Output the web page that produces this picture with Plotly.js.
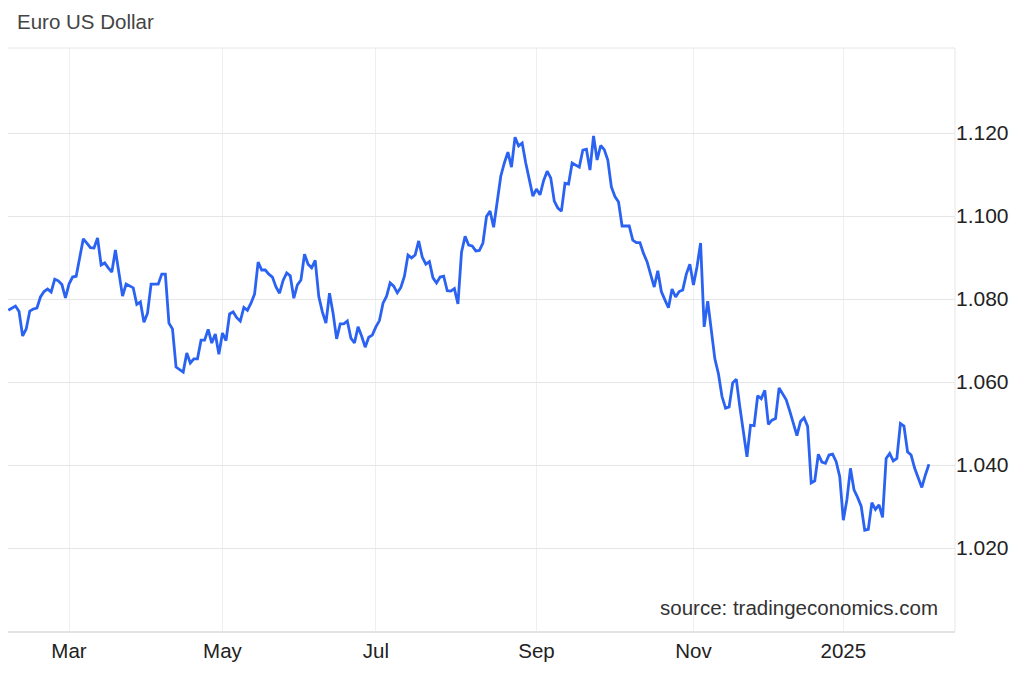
<!DOCTYPE html>
<html>
<head>
<meta charset="utf-8">
<script src="https://cdn.plot.ly/plotly-3.0.1.min.js"></script>
<style>
  html, body { margin: 0; padding: 0; background: #ffffff; }
  #chart { width: 1024px; height: 676px; }
</style>
</head>
<body>
<div id="chart"></div>
<script>
// Trading days (weekdays, market holidays dropped) from 2024-02-07 to 2025-02-05
const startDate = '2024-02-07';
const holidays = ['2024-12-25', '2025-01-01'];

// EUR/USD closes, one per trading day
const feb2024 = [1.0773, 1.0779, 1.0783, 1.0770, 1.0711, 1.0728, 1.0771, 1.0776, 1.0778, 1.0805, 1.0818, 1.0824, 1.0817, 1.0848, 1.0844, 1.0835, 1.0803];
const mar2024 = [1.0836, 1.0853, 1.0855, 1.0900, 1.0945, 1.0935, 1.0924, 1.0923, 1.0947, 1.0882, 1.0887, 1.0875, 1.0865, 1.0918, 1.0862, 1.0807, 1.0836, 1.0832, 1.0827, 1.0787, 1.0793];
const apr2024 = [1.0744, 1.0766, 1.0836, 1.0836, 1.0836, 1.0860, 1.0860, 1.0742, 1.0728, 1.0636, 1.0629, 1.0624, 1.0670, 1.0646, 1.0656, 1.0656, 1.0701, 1.0701, 1.0727, 1.0694, 1.0716, 1.0667];
const may2024 = [1.0718, 1.0700, 1.0764, 1.0769, 1.0755, 1.0747, 1.0780, 1.0773, 1.0790, 1.0812, 1.0889, 1.0870, 1.0870, 1.0860, 1.0853, 1.0829, 1.0814, 1.0845, 1.0863, 1.0856, 1.0802, 1.0834, 1.0846];
const jun2024 = [1.0908, 1.0884, 1.0875, 1.0893, 1.0806, 1.0769, 1.0742, 1.0814, 1.0766, 1.0704, 1.0740, 1.0740, 1.0747, 1.0706, 1.0694, 1.0733, 1.0711, 1.0684, 1.0708, 1.0713];
const jul2024 = [1.0733, 1.0748, 1.0790, 1.0807, 1.0839, 1.0831, 1.0815, 1.0828, 1.0855, 1.0906, 1.0899, 1.0906, 1.0940, 1.0901, 1.0884, 1.0890, 1.0851, 1.0839, 1.0853, 1.0855, 1.0820, 1.0819, 1.0825];
const aug2024 = [1.0788, 1.0913, 1.0951, 1.0930, 1.0928, 1.0916, 1.0917, 1.0935, 1.0999, 1.1012, 1.0973, 1.1036, 1.1096, 1.1128, 1.1154, 1.1118, 1.1190, 1.1169, 1.1176, 1.1128, 1.1084, 1.1048];
const sep2024 = [1.1065, 1.1051, 1.1085, 1.1108, 1.1092, 1.1036, 1.1019, 1.1012, 1.1079, 1.1077, 1.1128, 1.1123, 1.1118, 1.1159, 1.1161, 1.1111, 1.1193, 1.1135, 1.1170, 1.1160, 1.1135];
const oct2024 = [1.1070, 1.1047, 1.1034, 1.0976, 1.0976, 1.0976, 1.0942, 1.0936, 1.0936, 1.0910, 1.0890, 1.0862, 1.0829, 1.0868, 1.0818, 1.0798, 1.0779, 1.0824, 1.0805, 1.0818, 1.0822, 1.0860, 1.0884];
const nov2024 = [1.0834, 1.0878, 1.0935, 1.0733, 1.0795, 1.0718, 1.0656, 1.0620, 1.0565, 1.0537, 1.0540, 1.0598, 1.0607, 1.0540, 1.0480, 1.0420, 1.0496, 1.0495, 1.0567, 1.0560, 1.0580];
const dec2024 = [1.0498, 1.0508, 1.0512, 1.0586, 1.0573, 1.0557, 1.0530, 1.0500, 1.0471, 1.0505, 1.0514, 1.0493, 1.0357, 1.0362, 1.0426, 1.0407, 1.0404, 1.0424, 1.0426, 1.0408, 1.0372];
const jan2025 = [1.0267, 1.0316, 1.0392, 1.0340, 1.0322, 1.0301, 1.0243, 1.0245, 1.0309, 1.0293, 1.0304, 1.0274, 1.0416, 1.0428, 1.0410, 1.0416, 1.0500, 1.0494, 1.0432, 1.0424, 1.0392, 1.0368];
const feb2025 = [1.0346, 1.0376, 1.0402];

const tickDates = ['2024-03-01', '2024-05-01', '2024-07-01', '2024-09-02', '2024-11-01', '2025-01-02'];
const tickLabels = ['Mar', 'May', 'Jul', 'Sep', 'Nov', '2025'];
const yTicks = [1.02, 1.04, 1.06, 1.08, 1.10, 1.12];

const values = [].concat(feb2024, mar2024, apr2024, may2024, jun2024, jul2024,
  aug2024, sep2024, oct2024, nov2024, dec2024, jan2025, feb2025);

// calendar of trading days matching the values
function iso(d) { return d.toISOString().slice(0, 10); }
const dates = [];
let d = new Date(startDate + 'T00:00:00Z');
while (dates.length < values.length) {
  const wd = d.getUTCDay();
  const s = iso(d);
  if (wd !== 0 && wd !== 6 && holidays.indexOf(s) < 0) dates.push(s);
  d.setUTCDate(d.getUTCDate() + 1);
}
const idx = dates.map((_, i) => i);
const tickIdx = tickDates.map(t => dates.indexOf(t));

const FONT = 'Liberation Sans, Arial, Helvetica, sans-serif';

const trace = {
  x: idx,
  y: values,
  text: dates,
  type: 'scatter',
  mode: 'lines',
  line: { color: '#2a62f2', width: 2.8 },
  hoverinfo: 'text+y'
};

const layout = {
  width: 1024,
  height: 676,
  paper_bgcolor: '#ffffff',
  plot_bgcolor: '#ffffff',
  margin: { l: 8, r: 69, t: 48, b: 45 },
  showlegend: false,
  font: { family: FONT, size: 20.5, color: '#222222' },
  title: {
    text: 'Euro US Dollar',
    font: { family: FONT, size: 20.5, color: '#444444' },
    x: 17 / 1024, xanchor: 'left', xref: 'container',
    y: 1 - 22 / 676, yanchor: 'middle', yref: 'container'
  },
  xaxis: {
    type: 'linear',
    range: [-0.1, 265.3],
    tickmode: 'array',
    tickvals: tickIdx,
    ticktext: tickLabels,
    showgrid: true,
    gridcolor: '#eceff3',
    gridwidth: 1,
    zeroline: false,
    showline: true,
    linecolor: '#e3e3e3',
    linewidth: 2,
    ticks: '',
    tickfont: { family: FONT, size: 20.5, color: '#222222' },
    fixedrange: true
  },
  yaxis: {
    side: 'right',
    range: [1.0, 1.1405],
    tickmode: 'array',
    tickvals: yTicks,
    tickformat: '.3f',
    showgrid: true,
    gridcolor: '#e6e6e6',
    gridwidth: 1,
    zeroline: false,
    showline: false,
    ticks: '',
    tickfont: { family: FONT, size: 21, color: '#222222' },
    fixedrange: true
  },
  shapes: [
    { type: 'line', xref: 'paper', yref: 'paper', x0: 0, x1: 1, y0: 1, y1: 1,
      line: { color: '#e6e6e6', width: 1 } },
    { type: 'line', xref: 'paper', yref: 'paper', x0: 1, x1: 1, y0: 0, y1: 1,
      line: { color: '#e6e6e6', width: 1 } }
  ],
  annotations: [
    {
      text: 'source: tradingeconomics.com',
      xref: 'paper', yref: 'paper',
      x: (940 - 8) / 947, xanchor: 'right',
      y: (631 - 607) / 583, yanchor: 'middle',
      showarrow: false,
      font: { family: FONT, size: 20.5, color: '#333333' }
    }
  ]
};

Plotly.newPlot('chart', [trace], layout, { staticPlot: true, displayModeBar: false });
</script>
</body>
</html>
